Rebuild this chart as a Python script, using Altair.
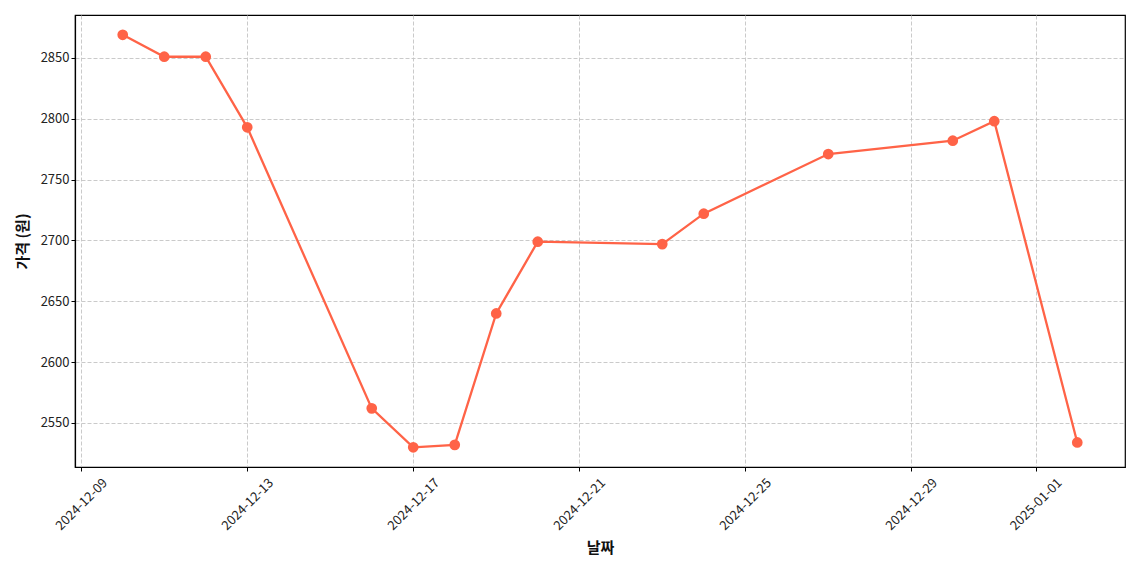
import altair as alt
import pandas as pd

dates = ["2024-12-10", "2024-12-11", "2024-12-12", "2024-12-13", "2024-12-16",
         "2024-12-17", "2024-12-18", "2024-12-19", "2024-12-20", "2024-12-23",
         "2024-12-24", "2024-12-27", "2024-12-30", "2024-12-31", "2025-01-02"]
prices = [2869, 2851, 2851, 2793, 2562, 2530, 2532, 2640, 2699, 2697,
          2722, 2771, 2782, 2798, 2534]
tick_dates = ["2024-12-09", "2024-12-13", "2024-12-17", "2024-12-21",
              "2024-12-25", "2024-12-29", "2025-01-01"]
y_ticks = [2550, 2600, 2650, 2700, 2750, 2800, 2850]

df = pd.DataFrame({"date": pd.to_datetime(dates), "price": prices})

FONT = "Noto Sans CJK KR"
COLOR = "#FF6347"

tick_vals = [alt.DateTime(year=int(d[:4]), month=int(d[5:7]), date=int(d[8:10])) for d in tick_dates]

x_enc = alt.X(
    "date:T",
    title="날짜",
    scale=alt.Scale(domain=[alt.DateTime(year=2024, month=12, date=8, hours=20, minutes=24),
                            alt.DateTime(year=2025, month=1, date=3, hours=3, minutes=36)]),
    axis=alt.Axis(values=tick_vals, format="%Y-%m-%d", labelAngle=-45,
                  labelAlign="center", labelBaseline="middle",
                  labelPadding=33, titlePadding=8, labelFontSize=13),
)
y_enc = alt.Y(
    "price:Q",
    title="가격 (원)",
    scale=alt.Scale(domain=[2513.8, 2885.3], nice=False, zero=False),
    axis=alt.Axis(values=y_ticks, format="d", titlePadding=10, labelFontSize=13),
)

line = alt.Chart(df).mark_line(color=COLOR, strokeWidth=2.3, clip=True).encode(x=x_enc, y=y_enc)
pts = alt.Chart(df).mark_point(color=COLOR, filled=True, size=115, opacity=1).encode(x=x_enc, y=y_enc)

chart = (line + pts).properties(
    width=1050, height=452,
    padding={"left": 67, "top": 7, "right": 7, "bottom": 90},
    autosize=alt.AutoSizeParams(type="none"),
).configure_view(
    stroke="black", strokeWidth=1.2,
).configure_axis(
    grid=True, gridColor="#c4c4c4", gridDash=[4, 2], gridWidth=0.9,
    domainColor="black", domainWidth=1.2,
    tickColor="black", tickSize=4, tickWidth=1,
    labelFont=FONT, labelColor="#222222",
    titleFont=FONT, titleFontSize=15, titleFontWeight="bold", titleColor="#111111",
).configure_text(font=FONT)

chart.save("out.html", embed_options={"renderer": "svg", "actions": False})
